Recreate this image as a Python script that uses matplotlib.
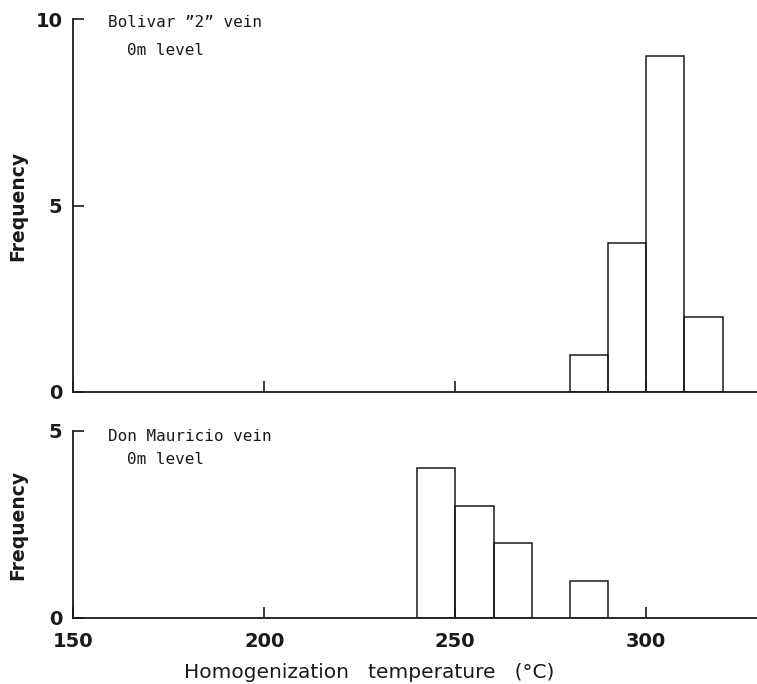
import matplotlib
matplotlib.use("Agg")
import matplotlib.pyplot as plt

# bin left edges (deg C) and counts
bolivar_bins = [280, 290, 300, 310]
bolivar_counts = [1, 4, 9, 2]
mauricio_bins = [240, 250, 260, 280]
mauricio_counts = [4, 3, 2, 1]
bin_width = 10
xticks = [150, 200, 250, 300]

ink = "#1a1a1a"
fig = plt.figure(figsize=(7.57, 6.84), dpi=100)
ax1 = fig.add_axes([0.097, 0.427, 0.903, 0.545])
ax2 = fig.add_axes([0.097, 0.0965, 0.903, 0.2735])

def style(ax, ymax, yticks, showx):
    for s in ("top", "right"):
        ax.spines[s].set_visible(False)
    for s in ("left", "bottom"):
        ax.spines[s].set_linewidth(1.3)
        ax.spines[s].set_color(ink)
    ax.set_xlim(150, 329)
    ax.set_ylim(0, ymax)
    ax.set_xticks(xticks)
    ax.set_yticks(yticks)
    ax.tick_params(direction="in", length=8, width=1.2, color=ink,
                   labelsize=14, labelcolor=ink, pad=8)
    ax.tick_params(axis="x", labelbottom=showx, pad=10)
    for lab in ax.get_xticklabels() + ax.get_yticklabels():
        lab.set_fontweight("bold")
    ax.set_ylabel("Frequency", fontsize=13.5, fontweight="bold", color=ink)
    ax.yaxis.set_label_coords(-0.068, 0.5)

ax1.bar(bolivar_bins, bolivar_counts, width=bin_width, align="edge",
        fill=False, edgecolor=ink, linewidth=1.1)
ax2.bar(mauricio_bins, mauricio_counts, width=bin_width, align="edge",
        fill=False, edgecolor=ink, linewidth=1.1)

style(ax1, 10, [0, 5, 10], False)
style(ax2, 5, [0, 5], True)

fig.text(369 / 757, 1 - 672 / 684, "Homogenization   temperature   (°C)",
         fontsize=14.5, color=ink, ha="center", va="center")

mono = "DejaVu Sans Mono"
ax1.text(0.05, 0.99, "Bolivar \u201d2\u201d vein", transform=ax1.transAxes,
         family=mono, fontsize=11.5, color=ink, va="center")
ax1.text(0.078, 0.915, "0m level", transform=ax1.transAxes,
         family=mono, fontsize=11.5, color=ink, va="center")
ax2.text(0.05, 0.97, "Don Mauricio vein", transform=ax2.transAxes,
         family=mono, fontsize=11.5, color=ink, va="center")
ax2.text(0.078, 0.845, "0m level", transform=ax2.transAxes,
         family=mono, fontsize=11.5, color=ink, va="center")

fig.savefig("out.png", dpi=100)
